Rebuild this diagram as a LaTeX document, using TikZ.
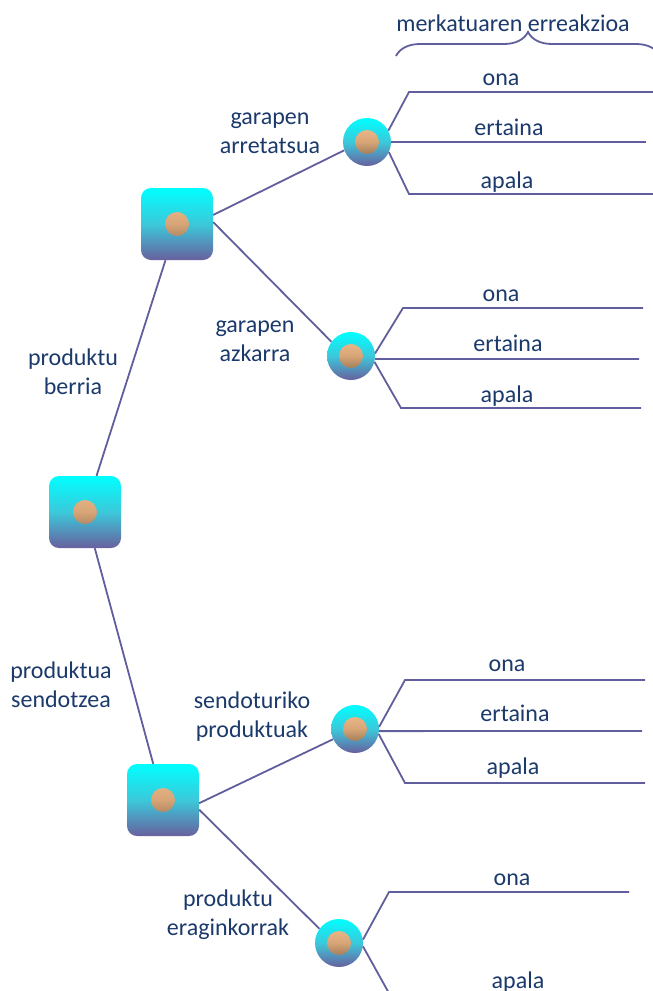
\documentclass[tikz,border=0pt]{standalone}
\usepackage{fontspec}
\setmainfont{Carlito}
\usetikzlibrary{decorations.pathreplacing}
\definecolor{txt}{RGB}{27,58,107}
\definecolor{ln}{RGB}{96,94,156}
\definecolor{cyn}{RGB}{0,255,255}
\definecolor{pur}{RGB}{104,96,158}
\definecolor{midc}{RGB}{60,200,218}
\definecolor{balltop}{RGB}{250,200,150}
\definecolor{ballmid}{RGB}{214,164,118}
\definecolor{ballbot}{RGB}{112,90,68}
\begin{document}
\begin{tikzpicture}[x=1pt,y=-1pt,
  conn/.style={draw=ln,line width=1.8pt},
  ballpic/.style={path picture={\shade[top color=balltop,bottom color=ballbot,middle color=ballmid] (path picture bounding box.center) circle (12pt);}},
  sqnode/.style={rectangle,minimum size=72pt,rounded corners=10pt,inner sep=0pt,top color=cyn,bottom color=pur,middle color=midc,ballpic},
  cnode/.style={circle,minimum size=48pt,inner sep=0pt,top color=cyn,bottom color=pur,middle color=midc,ballpic},
  lbl/.style={text=txt,font=\fontsize{24}{29}\selectfont,inner sep=0pt,align=center},
  fan/.style={text=txt,font=\fontsize{24}{29}\selectfont,inner sep=0pt,anchor=base},
]
\useasboundingbox (0,0) rectangle (653,991);
\clip (0,0) rectangle (653,991);

% main nodes
\node[sqnode] (root) at (85,512) {};
\node[sqnode] (sq1) at (177,224) {};
\node[sqnode] (sq2) at (163,800) {};
\node[cnode] (c1) at (367,142) {};
\node[cnode] (c2) at (351,356) {};
\node[cnode] (c3) at (355,729) {};
\node[cnode] (c4) at (339,943) {};

% connectors between nodes
\draw[conn] (root) -- (sq1);
\draw[conn] (root) -- (sq2);
\draw[conn] (sq1.14) -- (c1.200);
\draw[conn] (sq1.3) -- (c2.144);
\draw[conn] (sq2.-5) -- (c3.205);
\draw[conn] (sq2.-15) -- (c4.144);

% branch labels
\node[lbl] (lb1) at (73,372) {produktu\\berria};
\node[lbl] (lb2) at (61,685) {produktua\\sendotzea};
\node[lbl] (lb3) at (270,133) {garapen\\arretatsua};
\node[lbl] (lb4) at (255,341) {garapen\\azkarra};
\node[lbl] (lb5) at (252,717) {sendoturiko\\produktuak};
\node[lbl] (lb6) at (228,915) {produktu\\eraginkorrak};

% fan 1
\coordinate (f1t) at (409,92);  \coordinate (f1te) at (660,92);
\coordinate (f1me) at (646,142);
\coordinate (f1b) at (409,194); \coordinate (f1be) at (660,194);
\draw[conn] (c1.28) -- (f1t) -- (f1te);
\draw[conn] (c1.east) -- (f1me);
\draw[conn] (c1.-25) -- (f1b) -- (f1be);
\node[fan] (o1) at (501,85) {ona};
\node[fan] (e1) at (509,135) {ertaina};
\node[fan] (a1) at (507,188) {apala};

% fan 2
\coordinate (f2t) at (403,308); \coordinate (f2te) at (643,308);
\coordinate (f2me) at (639,359);
\coordinate (f2b) at (401,408); \coordinate (f2be) at (641,408);
\draw[conn] (c2.6) -- (f2t) -- (f2te);
\draw[conn] (c2.-7) -- (f2me);
\draw[conn] (c2.-14) -- (f2b) -- (f2be);
\node[fan] (o2) at (501,301) {ona};
\node[fan] (e2) at (508,351) {ertaina};
\node[fan] (a2) at (507,402) {apala};

% fan 3
\coordinate (f3t) at (405,680); \coordinate (f3te) at (645,680);
\coordinate (f3me) at (642,731);
\coordinate (f3b) at (405,783); \coordinate (f3be) at (645,783);
\draw[conn] (c3.5) -- (f3t) -- (f3te);
\draw[conn] (c3.-5) -- (f3me);
\draw[conn] (c3.-12) -- (f3b) -- (f3be);
\node[fan] (o3) at (507,671) {ona};
\node[fan] (e3) at (515,721) {ertaina};
\node[fan] (a3) at (513,774) {apala};

% fan 4
\coordinate (f4t) at (389,892); \coordinate (f4te) at (629,892);
\coordinate (f4b) at (395,1004);
\draw[conn] (c4.8) -- (f4t) -- (f4te);
\draw[conn] (c4.-8) -- (f4b);
\node[fan] (o4) at (512,885) {ona};
\node[fan] (a4) at (518,988) {apala};

% brace
\coordinate (bl) at (396,56);
\coordinate (br) at (660,56);
\draw[conn,decorate,decoration={brace,amplitude=24pt}] (bl) -- (br);
\node[fan] (mk) at (513,31) {merkatuaren erreakzioa};
\end{tikzpicture}
\end{document}
